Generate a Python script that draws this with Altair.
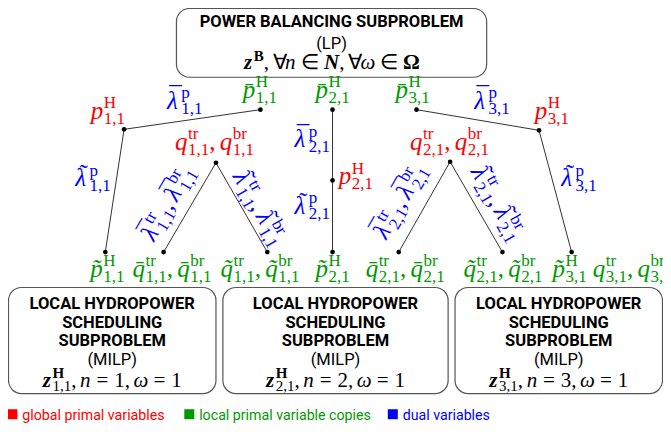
import re
import math
import unicodedata
import altair as alt
import pandas as pd

# ---------------- data (reference pixel coordinates) ----------------
node_x = [122, 260, 215, 103, 162, 267, 333, 333, 333, 418, 542, 452, 400, 505, 575]
node_y = [124, 104, 158, 249, 249, 249, 104, 176, 249, 104, 125, 157, 249, 249, 249]
edge_from = [0, 0, 2, 2, 6, 7, 9, 10, 11, 11]
edge_to = [1, 3, 4, 5, 7, 8, 10, 14, 12, 13]

label_text = [
    "p^H_1,1", "\u03bb\u0304^p_1,1", "p\u0304^H_1,1", "\u03bb\u0303^p_1,1",
    "q^tr_1,1, q^br_1,1",
    "p\u0304^H_2,1", "\u03bb\u0304^p_2,1", "p^H_2,1", "\u03bb\u0303^p_2,1",
    "p\u0304^H_3,1", "\u03bb\u0304^p_3,1", "p^H_3,1", "q^tr_2,1, q^br_2,1",
    "\u03bb\u0303^p_3,1",
    "p\u0303^H_1,1", "q\u0304^tr_1,1, q\u0304^br_1,1", "q\u0303^tr_1,1, q\u0303^br_1,1",
    "p\u0303^H_2,1", "q\u0304^tr_2,1, q\u0304^br_2,1", "q\u0303^tr_2,1, q\u0303^br_2,1",
    "p\u0303^H_3,1", "q^tr_3,1, q^br_3,1",
    "\u03bb\u0304^tr_1,1, \u03bb\u0304^br_1,1", "\u03bb\u0303^tr_1,1, \u03bb\u0303^br_1,1",
    "\u03bb\u0304^tr_2,1, \u03bb\u0304^br_2,1", "\u03bb\u0303^tr_2,1, \u03bb\u0303^br_2,1",
]
label_kind = (["global", "dual", "local", "dual", "global",
               "local", "dual", "global", "dual",
               "local", "dual", "global", "global", "dual"]
              + ["local"] * 8 + ["dual"] * 4)
label_cx = [105.5, 183.5, 259.5, 90.5, 213.5,
            333, 312.5, 356.5, 312.5,
            414, 494.5, 555, 451.5, 582.5,
            105, 170.5, 259.5, 333, 406.5, 505.5, 573, 636.5,
            173, 252, 408, 493]
label_y = [113, 103, 92, 182, 145,
           92, 142, 180, 210,
           92, 103, 113, 145, 182,
           274, 274, 274, 274, 274, 274, 274, 274,
           203, 208, 201, 203]
label_angle = [0] * 22 + [-60, 60, -60, 60]

kind_names = ["global", "local", "dual"]
kind_colors = ["#ff0000", "#009900", "#0000ff"]
legend_text = ["global primal variables", "local primal variable copies", "dual variables"]
legend_sq_x = [9, 188, 394]
legend_tx = [19, 198, 404]
legend_y = 414

top_box = [175, 489, 1, 71]
top_lines = ["POWER BALANCING SUBPROBLEM", "(LP)"]
box_x1 = [5, 222, 457]
box_x2 = [215, 450, 667]
box_y1 = [285, 285, 285]
box_y2 = [393, 393, 393]
box_n = [1, 2, 3]
box_lines = ["LOCAL HYDROPOWER", "SCHEDULING", "SUBPROBLEM", "(MILP)"]
box_line_y = [307, 326, 345, 364]
box_math_y = 386

# ---------------- layout helpers ----------------
XD = [4.5, 667.5]
YD = [0.5, 426]
WIDTH, HEIGHT = 655, 418
KX = WIDTH / (XD[1] - XD[0])
KY = HEIGHT / (YD[1] - YD[0])

LABEL_SIZES = (25, 17, 10.5, 5)   # base, script, rise, drop
BOX_SIZES = (21, 15, 8.5, 4.5)
SERIF = "Liberation Serif"
SANS = "Roboto"
ACCENT_GLYPH = {"\u0304": "\u00af", "\u0303": "\u02dc"}

WID = {
    "i": {"p": .5, "q": .5, "z": .389, "n": .5, "\u03bb": .55, "\u03c9": .67, "N": .667},
    "r": {"H": .722, "t": .278, "r": .333, "b": .5, "p": .5, ",": .25,
          "=": .564, "\u2200": .6, "\u2208": .85, "B": .667},
    "b": {"B": .667, "H": .778, "\u03a9": .77},
    "bi": {"z": .44, "N": .722},
}


def tw(text, style):
    return sum(WID[style].get(c, .5) for c in text if not unicodedata.combining(c))


ATOM = re.compile(r"([^\^\s,]+)\^([A-Za-z]+)_(\d,\d)")


def label_tokens(s):
    toks = []
    for k, (b, u, d) in enumerate(ATOM.findall(s)):
        if k:
            toks += [(",", "r", "b"), (0.17, None, "g")]
        toks += [(b, "i", "b"), (u, "r", "u"), (d, "r", "d")]
    return toks


def place(toks, cx, by, ang, color, sizes):
    S, s, rise, drop = sizes
    pieces = []
    x = 0.0
    pend = 0.0
    for t, st, role in toks:
        if role in ("b", "g"):
            x += pend
            pend = 0.0
            if role == "g":
                x += t * S
                continue
            if t[0] == "\u03bb" and len(t) > 1:
                # Greek letter: draw the accent as its own glyph above the letter
                w = tw(t[0], st) * S
                pieces.append((t[0], st, x, 0.0, S))
                pieces.append((ACCENT_GLYPH[t[1]], "acc", x + w * 0.62, -0.17 * S, S))
            else:
                pieces.append((t, st, x, 0.0, S))
            x += tw(t, st) * S
        else:
            dy = -rise if role == "u" else drop
            pieces.append((t, st, x + 0.5, dy, s))
            pend = max(pend, tw(t, st) * s + 0.5)
    x += pend
    a = math.radians(ang)
    ca, sa = math.cos(a), math.sin(a)
    rows = []
    for t, st, px, py, sz in pieces:
        px -= x / 2
        ox = px * ca - py * sa
        oy = px * sa + py * ca
        rows.append(dict(x=cx + ox / KX, y=by + oy / KY, text=t, style=st,
                         size=sz, angle=ang % 360, color=color))
    return rows


color_of = dict(zip(kind_names, kind_colors))

math_rows = []
for t, k, cx, y, a in zip(label_text, label_kind, label_cx, label_y, label_angle):
    math_rows += place(label_tokens(t), cx, y, a, color_of[k], LABEL_SIZES)

TH, TK = 0.17, 0.25
top_math = [("z", "bi", "b"), ("B", "b", "u"), (",", "r", "b"), (TH, None, "g"),
            ("\u2200", "r", "b"), ("n", "i", "b"), (TK, None, "g"), ("\u2208", "r", "b"),
            (TK, None, "g"), ("N", "bi", "b"), (",", "r", "b"), (TH, None, "g"),
            ("\u2200", "r", "b"), ("\u03c9", "i", "b"), (TK, None, "g"), ("\u2208", "r", "b"),
            (TK, None, "g"), ("\u03a9", "b", "b")]
math_rows += place(top_math, (top_box[0] + top_box[1]) / 2, 63, 0, "black", BOX_SIZES)
for x1, x2, n in zip(box_x1, box_x2, box_n):
    toks = [("z", "bi", "b"), ("H", "b", "u"), (f"{n},1", "r", "d"), (",", "r", "b"),
            (TH, None, "g"), ("n", "i", "b"), (0.28, None, "g"), ("=", "r", "b"),
            (0.28, None, "g"), (f"{n},", "r", "b"), (TH, None, "g"), ("\u03c9", "i", "b"),
            (0.28, None, "g"), ("=", "r", "b"), (0.28, None, "g"), ("1", "r", "b")]
    math_rows += place(toks, (x1 + x2) / 2, box_math_y, 0, "black", BOX_SIZES)
math_df = pd.DataFrame(math_rows)

# sans texts
sans_rows = []
tcx = (top_box[0] + top_box[1]) / 2
sans_rows.append(dict(x=tcx, y=20, text=top_lines[0], w="bold"))
sans_rows.append(dict(x=tcx, y=42, text=top_lines[1], w="normal"))
for x1, x2 in zip(box_x1, box_x2):
    for ln, yy in zip(box_lines, box_line_y):
        sans_rows.append(dict(x=(x1 + x2) / 2, y=yy, text=ln,
                              w="normal" if ln.startswith("(") else "bold"))
sans_df = pd.DataFrame(sans_rows)

boxes_df = pd.DataFrame(dict(x=[top_box[0]] + box_x1, x2=[top_box[1]] + box_x2,
                             y=[top_box[2]] + box_y1, y2=[top_box[3]] + box_y2))
edges_df = pd.DataFrame(dict(x=[node_x[i] for i in edge_from], y=[node_y[i] for i in edge_from],
                             x2=[node_x[i] for i in edge_to], y2=[node_y[i] for i in edge_to]))
nodes_df = pd.DataFrame(dict(x=node_x, y=node_y))
leg_sq = pd.DataFrame(dict(x=legend_sq_x, y=[legend_y] * 3, color=kind_colors))
leg_tx = pd.DataFrame(dict(x=legend_tx, y=[legend_y + 5.5] * 3, text=legend_text, color=kind_colors))

# ---------------- chart ----------------
X = alt.X("x:Q", scale=alt.Scale(domain=XD, nice=False, zero=False), axis=None)
Y = alt.Y("y:Q", scale=alt.Scale(domain=YD, nice=False, zero=False, reverse=True), axis=None)

boxes = alt.Chart(boxes_df).mark_rect(cornerRadius=13, fill="white", stroke="#555555",
                                      strokeWidth=1.2).encode(x=X, y=Y, x2="x2:Q", y2="y2:Q")
edges = alt.Chart(edges_df).mark_rule(color="#333333", strokeWidth=1).encode(
    x=X, y=Y, x2="x2:Q", y2="y2:Q")
dots = alt.Chart(nodes_df).mark_circle(size=22, color="black", opacity=1).encode(x=X, y=Y)

layers = [boxes, edges, dots]
for st, fstyle, fweight, align in [("i", "italic", "normal", "left"),
                                   ("r", "normal", "normal", "left"),
                                   ("b", "normal", "bold", "left"),
                                   ("bi", "italic", "bold", "left"),
                                   ("acc", "normal", "normal", "center")]:
    layers.append(
        alt.Chart(math_df).transform_filter(alt.datum.style == st)
        .mark_text(font=SERIF, fontStyle=fstyle, fontWeight=fweight,
                   align=align, baseline="alphabetic")
        .encode(x=X, y=Y, text="text:N",
                color=alt.Color("color:N", scale=None),
                size=alt.Size("size:Q", scale=None),
                angle=alt.Angle("angle:Q", scale=None))
    )
for w in ["bold", "normal"]:
    layers.append(
        alt.Chart(sans_df).transform_filter(alt.datum.w == w)
        .mark_text(font=SANS, fontWeight=w, fontSize=16.5, align="center",
                   baseline="alphabetic", color="black")
        .encode(x=X, y=Y, text="text:N")
    )
layers.append(alt.Chart(leg_sq).mark_square(size=100, opacity=1).encode(
    x=X, y=Y, color=alt.Color("color:N", scale=None)))
layers.append(alt.Chart(leg_tx).mark_text(font=SANS, fontSize=14.2,
                                          align="left", baseline="alphabetic").encode(
    x=X, y=Y, text="text:N", color=alt.Color("color:N", scale=None)))

chart = alt.layer(*layers).properties(
    width=WIDTH, height=HEIGHT, padding=0,
    autosize=alt.AutoSizeParams(type="none"),
    background="white",
).configure_view(stroke=None)

chart.save("out.html", embed_options={"renderer": "svg", "actions": False})
